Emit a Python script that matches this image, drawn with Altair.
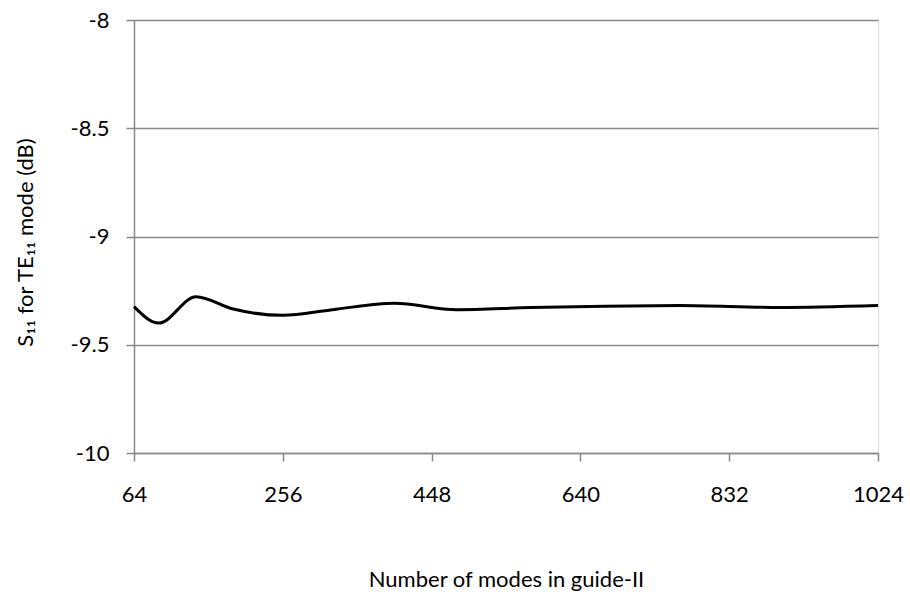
import altair as alt
import pandas as pd

modes = [64, 96, 144, 192, 256, 320, 400, 480, 576, 672, 768, 896, 1024]
s11 = [-9.324, -9.40, -9.278, -9.335, -9.364, -9.338, -9.308, -9.338, -9.328, -9.322, -9.319, -9.328, -9.319]
x_ticks = [64, 256, 448, 640, 832, 1024]
y_ticks = [-10, -9.5, -9, -8.5, -8]

df = pd.DataFrame({"modes": modes, "s11": s11})

FONT = "Lato"
GRAY = "#898989"

chart = alt.Chart(df).mark_line(color="black", strokeWidth=3, interpolate="monotone").encode(
    x=alt.X("modes:Q",
            scale=alt.Scale(domain=[64, 1024], nice=False, zero=False),
            axis=alt.Axis(values=x_ticks, title="Number of modes in guide-II",
                          labelExpr="toString(datum.value)",
                          grid=False, domainColor=GRAY, domainWidth=1.5,
                          tickColor=GRAY, tickWidth=1.5, tickSize=8,
                          labelFont=FONT, labelFontSize=22, labelColor="black",
                          labelPadding=23, labelFlush=False,
                          titleFont=FONT, titleFontSize=22, titleFontWeight="normal",
                          titleColor="black", titleY=133, titleBaseline="alphabetic")),
    y=alt.Y("s11:Q",
            scale=alt.Scale(domain=[-10, -8], nice=False, zero=False),
            axis=alt.Axis(values=y_ticks, title="S₁₁ for TE₁₁ mode (dB)",
                          labelExpr="toString(datum.value)",
                          grid=True, gridColor=GRAY, gridWidth=1.5,
                          domainColor=GRAY, domainWidth=1.5,
                          tickColor=GRAY, tickWidth=1.5, tickSize=8,
                          labelFont=FONT, labelFontSize=22, labelColor="black",
                          labelPadding=17, labelFlush=False,
                          titleFont=FONT, titleFontSize=22, titleFontWeight="normal",
                          titleColor="black", titleX=-109, titleY=222,
                          titleAlign="center", titleBaseline="middle")),
).properties(
    width=744, height=433,
    padding={"left": 134, "top": 20, "right": 32, "bottom": 144},
    autosize=alt.AutoSizeParams(type="none"),
).configure_view(
    stroke=GRAY, strokeWidth=1.5
).configure(background="white")

chart.save("out.html", embed_options={"renderer": "svg", "actions": False})
